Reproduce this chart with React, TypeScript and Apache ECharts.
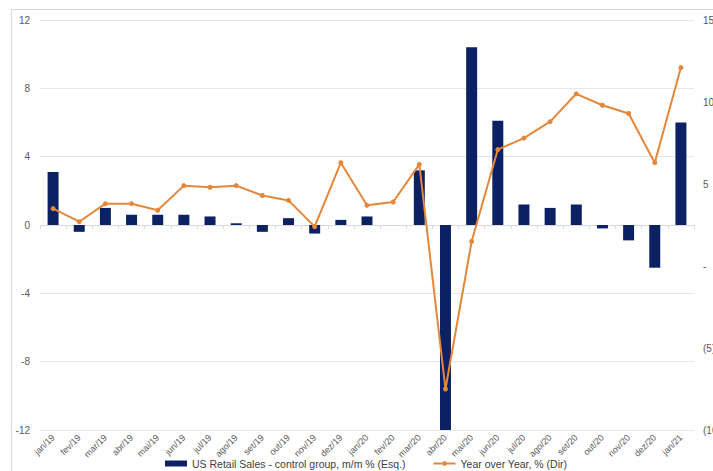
import React, { useEffect, useRef } from "react";
import * as echarts from "echarts";

// Monthly categories (Portuguese month abbreviations)
const months: string[] = [
  "jan/19", "fev/19", "mar/19", "abr/19", "mai/19", "jun/19", "jul/19", "ago/19",
  "set/19", "out/19", "nov/19", "dez/19", "jan/20", "fev/20", "mar/20", "abr/20",
  "mai/20", "jun/20", "jul/20", "ago/20", "set/20", "out/20", "nov/20", "dez/20", "jan/21",
];

// US Retail Sales - control group, m/m % (left axis)
const momValues: number[] = [
  3.1, -0.4, 1.0, 0.6, 0.6, 0.6, 0.5, 0.1, -0.4, 0.4, -0.5, 0.3, 0.5,
  0.0, 3.2, -12.0, 10.4, 6.1, 1.2, 1.0, 1.2, -0.2, -0.9, -2.5, 6.0,
];

// Year over Year, % (right axis)
const yoyValues: number[] = [
  3.5, 2.7, 3.8, 3.8, 3.4, 4.9, 4.8, 4.9, 4.3, 4.0, 2.4, 6.3, 3.7,
  3.9, 6.2, -7.5, 1.5, 7.1, 7.8, 8.8, 10.5, 9.8, 9.3, 6.3, 12.1,
];

const leftAxis = { min: -12, max: 12, interval: 4 };
const rightAxis = { min: -10, max: 15, interval: 5 };

const seriesNames = [
  "US Retail Sales - control group, m/m % (Esq.)",
  "Year over Year, % (Dir)",
];

const NAVY = "#0b2163";
const ORANGE = "#e5873a";
const FONT = "Liberation Sans, Arial, sans-serif";

export default function App() {
  const ref = useRef<HTMLDivElement>(null);

  useEffect(() => {
    if (!ref.current) return;
    const chart = echarts.init(ref.current, undefined, { renderer: "svg" });
    chart.setOption({
      animation: false,
      backgroundColor: "#ffffff",
      textStyle: { fontFamily: FONT },
      graphic: [
        {
          type: "rect",
          shape: { x: 11.5, y: 9.5, width: 760, height: 500 },
          style: { fill: "none", stroke: "#d9d9d9", lineWidth: 1 },
          silent: true,
          z: -1,
        },
      ],
      grid: {
        left: 40,
        right: 19,
        top: 20,
        bottom: 41,
        containLabel: false,
        outerBoundsMode: "none",
      },
      legend: {
        left: 160,
        top: 453,
        itemWidth: 22,
        itemHeight: 6,
        itemGap: 27,
        textStyle: { fontSize: 10.5, color: "#404040", fontFamily: FONT },
        data: [
          { name: seriesNames[0], icon: "rect" },
          { name: seriesNames[1] },
        ],
      },
      xAxis: {
        type: "category",
        data: months,
        axisLine: { onZero: true, lineStyle: { color: "#d9d9d9" } },
        axisTick: { show: true, lineStyle: { color: "#d9d9d9" }, length: 4 },
        axisLabel: {
          rotate: 45,
          fontSize: 9,
          color: "#595959",
          margin: 6,
          interval: 0,
        },
        splitLine: { show: false },
      },
      yAxis: [
        {
          type: "value",
          min: leftAxis.min,
          max: leftAxis.max,
          interval: leftAxis.interval,
          axisLine: { show: false },
          axisTick: { show: false },
          axisLabel: { fontSize: 10, color: "#595959", margin: 10 },
          splitLine: { lineStyle: { color: "#e6e6e6", width: 1 } },
        },
        {
          type: "value",
          min: rightAxis.min,
          max: rightAxis.max,
          interval: rightAxis.interval,
          axisLine: { show: false },
          axisTick: { show: false },
          splitLine: { show: false },
          axisLabel: {
            fontSize: 10,
            color: "#595959",
            margin: 9,
            formatter: (v: number) => (v === 0 ? "-" : v < 0 ? `(${-v})` : `${v}`),
          },
        },
      ],
      series: [
        {
          name: seriesNames[0],
          type: "bar",
          yAxisIndex: 0,
          data: momValues,
          barWidth: "42%",
          itemStyle: { color: NAVY },
        },
        {
          name: seriesNames[1],
          type: "line",
          yAxisIndex: 1,
          data: yoyValues,
          symbol: "circle",
          symbolSize: 5,
          lineStyle: { color: ORANGE, width: 2 },
          itemStyle: { color: ORANGE },
          z: 3,
        },
      ],
    });
    return () => chart.dispose();
  }, []);

  return (
    <div
      ref={ref}
      style={{ position: "fixed", left: 0, top: 0, width: 713, height: 471 }}
    />
  );
}
